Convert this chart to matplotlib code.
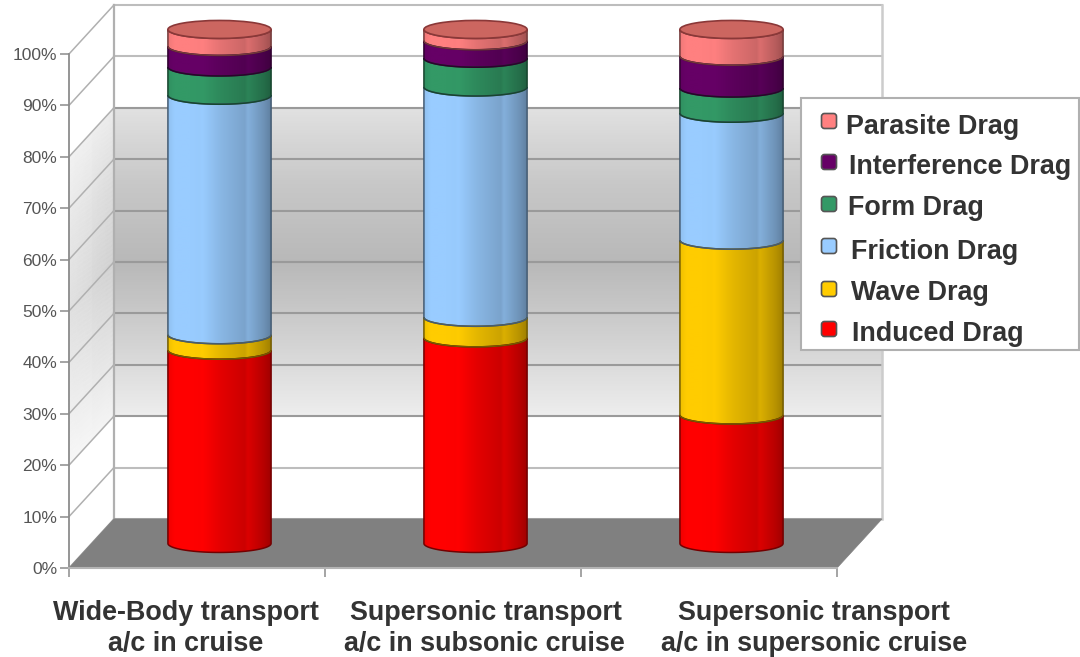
import numpy as np
import matplotlib
matplotlib.use('Agg')
import matplotlib.pyplot as plt
from matplotlib.colors import to_rgb
from matplotlib.patches import Ellipse, PathPatch, Polygon, FancyBboxPatch, Rectangle
from matplotlib.path import Path

plt.rcParams['font.family'] = ['Liberation Sans', 'DejaVu Sans']

# values, percent of total drag
induced = [37.6, 40.0, 25.0]
wave = [3.0, 4.0, 34.0]
friction = [46.6, 44.8, 24.7]
form = [5.5, 5.6, 4.9]
interference = [4.0, 3.4, 6.2]
parasite = [3.3, 2.2, 5.2]

series = [induced, wave, friction, form, interference, parasite]
colors = ['#ff0000', '#ffcc00', '#99ccff', '#339966', '#660066', '#ff8080']
series_names = ['Induced Drag', 'Wave Drag', 'Friction Drag', 'Form Drag', 'Interference Drag', 'Parasite Drag']
ticks = [0, 10, 20, 30, 40, 50, 60, 70, 80, 90, 100]

# wall shading, by height on the wall
wall_levels = [0, 20, 20.01, 35, 50, 65, 80, 80.01, 100]
wall_shades = [1.0, 1.0, 0.93, 0.82, 0.72, 0.78, 0.88, 1.0, 1.0]

dx = 45 / 256.0     # depth of the box in category units
dy = 9.55           # depth of the box in percent units
bar_w = 0.403
ell_h = 3.5

fig = plt.figure(figsize=(10.8, 6.57), dpi=100, facecolor='white')
ax = fig.add_axes([69 / 1080, (657 - 568) / 657, 768 / 1080, 514 / 657])
ax.patch.set_visible(False)

# walls, the side one paler than the back one
lev = np.linspace(0, 100, 401)
shade = np.interp(lev, wall_levels, wall_shades)
shade2d = np.column_stack([shade, shade])
side2d = np.column_stack([1 - (1 - shade) * 0.4, 1 - (1 - shade) * 0.65])
t = np.array([0, 1.0])
X_side = np.outer(np.ones_like(lev), t * dx)
Y_side = np.column_stack([lev, lev + dy])
ax.pcolormesh(X_side, Y_side, side2d, shading='gouraud', cmap='gray', vmin=0, vmax=1, clip_on=False, zorder=0)
X_back = np.outer(np.ones_like(lev), np.array([dx, 3 + dx]))
Y_back = np.column_stack([lev + dy, lev + dy])
ax.pcolormesh(X_back, Y_back, shade2d, shading='gouraud', cmap='gray', vmin=0, vmax=1, clip_on=False, zorder=0)

# gridlines
for v in ticks:
    c = '#bdbdbd' if v > 80 or v < 20 else '#9a9a9a'
    ax.plot([0, dx], [v, v + dy], color='#b0b0b0', lw=1.1, clip_on=False, zorder=1)
    ax.plot([dx, 3 + dx], [v + dy, v + dy], color=c, lw=1.5, clip_on=False, zorder=1)
ax.plot([dx, dx], [dy, 100 + dy], color='#b0b0b0', lw=1.6, clip_on=False, zorder=1)
ax.plot([3 + dx, 3 + dx], [dy, 100 + dy], color='#cccccc', lw=1.8, clip_on=False, zorder=1)

# floor
ax.add_patch(Polygon([(0, 0), (3, 0), (3 + dx, dy), (dx, dy)], closed=True, facecolor='#808080',
                     edgecolor='#808080', lw=0.5, clip_on=False, zorder=2))


def lower_arc(xc, level, reverse=False):
    a = np.linspace(np.pi, 2 * np.pi, 60)
    if reverse:
        a = a[::-1]
    return np.column_stack([xc + bar_w / 2 * np.cos(a), level + ell_h / 2 * np.sin(a)])


def shaded(color, n=200):
    # light from the left, with the faint banding of the old 3D chart
    u = np.linspace(0, 1, n)
    s = np.interp(u, [0, 0.06, 0.22, 0.30, 0.33, 0.5, 0.74, 0.77, 0.92, 1],
                  [0.94, 1.0, 1.0, 0.99, 1.0, 0.9, 0.8, 0.86, 0.72, 0.62])
    return np.clip(np.array(to_rgb(color))[None, None, :] * s[None, :, None], 0, 1)


# cylinders stand in the middle of the floor
x_centers = np.arange(3) + 0.5 + dx / 2
for i, xc in enumerate(x_centers):
    base = dy / 2
    for vals, col in zip(series, colors):
        top = base + vals[i]
        verts = np.vstack([lower_arc(xc, base), lower_arc(xc, top, reverse=True)])
        path = Path(np.vstack([verts, verts[0]]), closed=True)
        patch = PathPatch(path, transform=ax.transData, facecolor='none', edgecolor='none')
        ax.add_patch(patch)
        im = ax.imshow(shaded(col), extent=[xc - bar_w / 2, xc + bar_w / 2, base - ell_h, top + ell_h],
                       aspect='auto', interpolation='bilinear', zorder=3)
        im.set_clip_box(fig.bbox)
        im.set_clip_path(patch)
        edge = tuple(np.array(to_rgb(col)) * 0.45)
        ax.add_patch(PathPatch(path, facecolor='none', edgecolor=edge, lw=1.1, clip_on=False, zorder=4))
        base = top
    ax.add_patch(Ellipse((xc, base), bar_w, ell_h, facecolor='#cc6660', edgecolor='#8a3838', lw=1.2,
                         clip_on=False, zorder=4))

ax.set_xlim(0, 3)
ax.set_ylim(0, 100)
ax.set_xticks([0, 1, 2, 3])
ax.set_xticklabels([])
ax.set_yticks(ticks)
ax.set_yticklabels(['%d%%' % v for v in ticks], fontsize=12.5, color='#555555')
ax.tick_params(axis='both', length=6.5, width=1.1, color='#8c8c8c', pad=2)
for s in ['top', 'right']:
    ax.spines[s].set_visible(False)
ax.spines['left'].set_color('#8c8c8c')
ax.spines['left'].set_linewidth(1.3)
ax.spines['bottom'].set_color('#b4b4b4')
ax.spines['bottom'].set_linewidth(1.5)
ax.spines['bottom'].set_zorder(3)

# overlay in pixel coordinates for the hand placed labels and the legend
over = fig.add_axes([0, 0, 1, 1])
over.set_xlim(0, 1080)
over.set_ylim(657, 0)
over.axis('off')

cat_lines = [('Wide-Body transport', 186, 613), ('a/c in cruise', 186, 644),
             ('Supersonic transport', 486, 613), ('a/c in subsonic cruise', 484, 644),
             ('Supersonic transport', 814, 613), ('a/c in supersonic cruise', 814, 644)]
for txt, x, y in cat_lines:
    over.text(x, y, txt, ha='center', va='center', fontsize=19.4, fontweight='bold', color='#333333')

over.add_patch(Rectangle((801, 98), 278, 252, facecolor='white', edgecolor='#b0b0b0', lw=1.5, zorder=5))
leg_y = [329, 289, 246, 204, 162, 121]
leg_sw_x = [829, 829, 829, 829, 829, 829]
leg_tx = [852, 851, 851, 848, 849, 846]
leg_ty = [334, 293, 252, 208, 167, 127]
for name, col, sy, sx, tx, ty in zip(series_names, colors, leg_y, leg_sw_x, leg_tx, leg_ty):
    over.add_patch(FancyBboxPatch((sx - 6, sy - 6), 12, 12, boxstyle='round,pad=1.5,rounding_size=3',
                                  facecolor=col, edgecolor='#555555', lw=1.2, zorder=6))
    over.text(tx, ty, name, ha='left', va='center', fontsize=19.4, fontweight='bold', color='#333333', zorder=6)

fig.savefig('out.png', dpi=100)
